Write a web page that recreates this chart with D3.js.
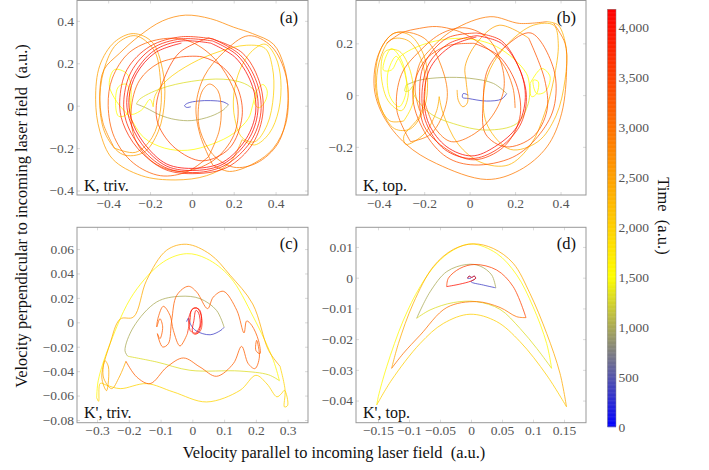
<!DOCTYPE html>
<html>
<head>
<meta charset="utf-8">
<script src="https://cdn.jsdelivr.net/npm/d3@7"></script>
<style>
  html, body { margin: 0; padding: 0; background: #fff; }
  svg { display: block; }
  text { font-family: "Liberation Serif", serif; }
</style>
</head>
<body>
<svg id="chart" width="709" height="470"></svg>
<script>
// colorbar
const timeTicks = [0, 500, 1000, 1500, 2000, 2500, 3000, 3500, 4000];
const timeStops = [0, 1500, 4172];
const timeColors = ['#0000ff', '#ffff00', '#ff0000'];

// tick values
const ticksA = [-0.4, -0.2, 0, 0.2, 0.4];
const ticksBx = [-0.4, -0.2, 0, 0.2, 0.4];
const ticksBy = [-0.2, 0, 0.2];
const ticksCx = [-0.3, -0.2, -0.1, 0, 0.1, 0.2, 0.3];
const ticksCy = [-0.08, -0.06, -0.04, -0.02, 0, 0.02, 0.04, 0.06];
const ticksDx = [-0.15, -0.1, -0.05, 0, 0.05, 0.1, 0.15];
const ticksDy = [-0.04, -0.03, -0.02, -0.01, 0, 0.01];

// trajectories: [time, [[vx, vy], ...]]
const trajA = [
  [350, [[-0.005,-0.005],[-0.025,-0.008],[-0.035,0],[-0.02,0.012],[0.03,0.022],[0.09,0.024],[0.15,0.018],[0.175,0.005]]],
  [1000, [[0.175,0.005],[0.15,-0.02],[0.09,-0.05],[0,-0.07],[-0.08,-0.065],[-0.15,-0.045],[-0.22,-0.01],[-0.265,0.008]]],
  [1300, [[-0.265,0.008],[-0.25,0.03],[-0.15,0.08],[0,0.115],[0.15,0.125],[0.25,0.105],[0.3,0.07],[0.31,0.04]]],
  [1500, [[0.31,0.04],[0.3,0.01],[0.32,-0.01],[0.35,0.02],[0.36,0.07],[0.34,0.1],[0.31,0.07],[0.29,0],[0.27,-0.06],[0.2,-0.13],[0.1,-0.18],[-0.02,-0.21],[-0.13,-0.2],[-0.23,-0.15],[-0.3,-0.05],[-0.36,0.02],[-0.395,0.1],[-0.37,0.17],[-0.31,0.15],[-0.29,0.05],[-0.31,-0.04],[-0.35,-0.05],[-0.365,0.02],[-0.35,0.09],[-0.31,0.1],[-0.295,0],[-0.29,-0.04],[-0.24,-0.02],[-0.2,0.03],[-0.185,-0.005]]],
  [2000, [[-0.185,-0.005],[-0.175,0.05],[-0.12,0.12],[0,0.2],[0.13,0.255],[0.26,0.285],[0.35,0.27],[0.385,0.18],[0.39,0.05],[0.36,-0.09],[0.3,-0.17],[0.24,-0.15],[0.205,-0.06],[0.2,0.05],[0.23,0.17],[0.29,0.26],[0.35,0.29],[0.4,0.23],[0.425,0.12],[0.415,-0.02],[0.37,-0.13],[0.3,-0.185],[0.24,-0.16]]],
  [2500, [[0.24,-0.16],[0.18,-0.27],[0.07,-0.33],[-0.08,-0.35],[-0.24,-0.33],[-0.38,-0.25],[-0.44,-0.12],[-0.46,0.03],[-0.44,0.19],[-0.37,0.3],[-0.28,0.34],[-0.19,0.3],[-0.14,0.17],[-0.13,0.03],[-0.16,-0.12],[-0.23,-0.22],[-0.33,-0.23],[-0.41,-0.14],[-0.44,0],[-0.42,0.17],[-0.36,0.29],[-0.27,0.33],[-0.18,0.26],[-0.15,0.12],[-0.15,-0.02],[-0.19,-0.15],[-0.27,-0.22],[-0.37,-0.2]]],
  [2750, [[-0.37,-0.2],[-0.425,-0.08],[-0.44,0.06],[-0.42,0.17],[-0.347,0.246],[-0.25,0.33],[-0.14,0.4],[-0.03,0.427],[0.09,0.41],[0.2,0.37],[0.29,0.34],[0.39,0.29],[0.44,0.19],[0.46,0.06],[0.45,-0.08],[0.39,-0.2],[0.3,-0.27],[0.18,-0.31],[0.1,-0.28]]],
  [2950, [[0.1,-0.28],[0.04,-0.14],[0.02,0],[0.06,0.14],[0.15,0.25],[0.27,0.33],[0.38,0.28],[0.45,0.14],[0.455,-0.03],[0.41,-0.18],[0.31,-0.27],[0.2,-0.29],[0.1,-0.23],[0.04,-0.12],[0.03,-0.03],[0.05,0.07],[0.085,0.102],[0.125,0.07],[0.14,-0.02],[0.13,-0.12],[0.08,-0.24]]],
  [3200, [[0.08,-0.24],[-0.02,-0.31],[-0.15,-0.33],[-0.28,-0.27],[-0.37,-0.15],[-0.4,0],[-0.38,0.13],[-0.3,0.25],[-0.17,0.31],[-0.03,0.31],[0.09,0.24],[0.18,0.12],[0.22,0],[0.2,-0.14],[0.1,-0.26],[-0.05,-0.31],[-0.18,-0.27],[-0.27,-0.16],[-0.29,-0.02],[-0.25,0.12],[-0.16,0.2],[-0.05,0.23]]],
  [3450, [[-0.05,0.23],[0.05,0.23],[0.15,0.18],[0.22,0.08],[0.24,-0.05],[0.18,-0.2],[0.05,-0.26],[-0.08,-0.2],[-0.16,-0.09],[-0.17,0],[-0.14,0.11],[-0.06,0.25],[0.08,0.32]]],
  [3700, [[0.08,0.32],[0.24,0.25],[0.32,0.12],[0.34,-0.03],[0.29,-0.18],[0.17,-0.29],[0.02,-0.32],[-0.13,-0.3],[-0.26,-0.2],[-0.33,-0.08],[-0.345,0.02],[-0.31,0.17],[-0.2,0.28],[-0.05,0.325],[0.1,0.315]]],
  [3850, [[0.1,0.315],[0.23,0.24],[0.31,0.11],[0.33,-0.03],[0.28,-0.17],[0.16,-0.28],[0.02,-0.315],[-0.13,-0.29],[-0.25,-0.19],[-0.315,-0.07],[-0.325,0.03],[-0.29,0.16],[-0.19,0.27],[-0.05,0.315],[0.1,0.305]]],
  [4000, [[0.1,0.305],[0.22,0.235],[0.3,0.1],[0.315,-0.03],[0.27,-0.16],[0.15,-0.275],[0.02,-0.305],[-0.12,-0.285],[-0.24,-0.18],[-0.3,-0.06],[-0.31,0.04],[-0.275,0.15],[-0.18,0.26],[-0.05,0.305],[0.09,0.295]]],
  [4100, [[0.09,0.295],[0.21,0.225],[0.29,0.09],[0.305,-0.03],[0.26,-0.155],[0.15,-0.265],[0.02,-0.295],[-0.12,-0.275],[-0.23,-0.175],[-0.29,-0.06],[-0.3,0.04],[-0.265,0.15],[-0.175,0.25],[-0.05,0.295]]]
];

const trajB = [
  [350, [[-0.006,0],[-0.028,0.006],[-0.031,-0.009],[-0.006,-0.013],[0.075,-0.023],[0.141,-0.015],[0.163,0.006]]],
  [1000, [[0.163,0.006],[0.105,0.045],[0,0.065],[-0.116,0.068],[-0.22,0.058],[-0.279,0.039]]],
  [1300, [[-0.279,0.039],[-0.285,0.015],[-0.265,0.018],[-0.25,0.035],[-0.25,0.01],[-0.175,-0.07],[-0.072,-0.11],[0.075,-0.135],[0.207,-0.11],[0.258,-0.032],[0.266,0.045]]],
  [1500, [[0.266,0.045],[0.317,0.103],[0.354,0.071],[0.332,0.013],[0.295,0.006],[0.28,0.058],[0.302,0.052],[0.295,0.006],[0.273,-0.006],[0.25,0.084],[0.119,0.187],[-0.028,0.219],[-0.189,0.2],[-0.307,0.148],[-0.344,0.097],[-0.38,0.097],[-0.345,0.18],[-0.3,0.135],[-0.278,0.02],[-0.31,-0.045],[-0.35,-0.007],[-0.36,0.085],[-0.323,0.15],[-0.29,0.1]]],
  [1800, [[-0.29,0.1],[-0.27,0],[-0.3,-0.06],[-0.36,-0.02],[-0.39,0.1],[-0.37,0.17],[-0.31,0.17],[-0.26,0.09],[-0.25,-0.03],[-0.29,-0.1]]],
  [2400, [[-0.29,-0.1],[-0.35,-0.1],[-0.4,-0.03],[-0.415,0.07],[-0.39,0.18],[-0.33,0.24],[-0.26,0.23],[-0.2,0.15],[-0.185,0.05],[-0.2,-0.05],[-0.26,-0.13],[-0.33,-0.13],[-0.39,-0.05],[-0.41,0.05],[-0.39,0.15],[-0.345,0.215],[-0.27,0.21],[-0.21,0.13],[-0.195,0.02],[-0.22,-0.08],[-0.29,-0.16],[-0.28,-0.19],[-0.2,-0.15],[-0.145,-0.06],[-0.134,-0.006]]],
  [2300, [[-0.134,-0.006],[-0.117,-0.07],[-0.05,-0.19],[0.05,-0.26],[0.17,-0.27],[0.27,-0.19],[0.33,-0.07],[0.37,0.06],[0.39,0.2],[0.37,0.27],[0.28,0.27],[0.17,0.2],[0.09,0.1],[0.06,-0.01],[0.08,-0.12],[0.18,-0.21],[0.3,-0.18],[0.38,-0.08],[0.42,0.06],[0.425,0.18],[0.39,0.27],[0.34,0.284]]],
  [2900, [[0.34,0.284],[0.22,0.277],[0.09,0.303],[-0.072,0.252],[-0.18,0.17],[-0.22,0.122],[-0.24,0.02],[-0.22,-0.06]]],
  [3050, [[-0.366,0.2],[-0.3,0.24],[-0.22,0.258],[-0.145,0.265],[-0.06,0.25],[0,0.226],[0.134,0.135],[0.19,0.03],[0.2,-0.05]]],
  [2900, [[0.37,0.277],[0.42,0.2],[0.427,0.11],[0.405,-0.07],[0.34,-0.2],[0.22,-0.29],[0.075,-0.326],[-0.145,-0.265],[-0.28,-0.19],[-0.38,-0.08],[-0.42,0.03],[-0.4,0.16],[-0.33,0.24],[-0.2,0.22],[-0.12,0.1],[-0.1,-0.02],[-0.17,-0.15],[-0.26,-0.18]]],
  [3100, [[-0.26,-0.18],[-0.32,-0.06],[-0.3,0.08],[-0.22,0.17],[-0.12,0.24],[-0.02,0.26],[0.08,0.22],[0.14,0.12],[0.15,0.02],[0.1,-0.08],[0.02,-0.15],[-0.08,-0.18],[-0.15,-0.13],[-0.2,-0.02]]],
  [2500, [[-0.055,0.02],[-0.05,-0.02],[-0.03,-0.045],[-0.01,-0.03],[-0.015,0.05],[-0.02,0.11],[0.03,0.2],[0.13,0.27],[0.26,0.22]]],
  [3300, [[0.26,0.22],[0.33,0.06],[0.34,-0.06],[0.28,-0.16],[0.16,-0.2],[0.07,-0.15],[0.06,-0.02],[0.08,0.1],[0.16,0.19],[0.27,0.24],[0.37,0.1],[0.37,-0.05],[0.3,-0.16],[0.19,-0.24],[0.02,-0.27],[-0.1,-0.24],[-0.2,-0.14],[-0.25,0],[-0.2,0.13],[-0.1,0.19],[0.02,0.2]]],
  [3550, [[0.02,0.2],[0.13,0.15],[0.21,0.03],[0.22,-0.09],[0.15,-0.2],[0.02,-0.25],[-0.1,-0.21],[-0.2,-0.12],[-0.22,0],[-0.2,0.12],[-0.1,0.22],[0.03,0.24]]],
  [3800, [[0.03,0.24],[0.14,0.21],[0.22,0.1],[0.25,-0.01],[0.22,-0.12],[0.12,-0.21],[0.01,-0.245],[-0.11,-0.21],[-0.19,-0.11],[-0.21,0],[-0.18,0.12],[-0.09,0.2],[0.03,0.23]]],
  [4050, [[0.03,0.23],[0.14,0.2],[0.22,0.1],[0.245,-0.01],[0.21,-0.12],[0.11,-0.2],[0.01,-0.235],[-0.1,-0.2],[-0.18,-0.11],[-0.2,0],[-0.17,0.11],[-0.08,0.19],[0.03,0.225]]]
];

const trajC = [
  [350, [[-0.018,0.0005],[-0.012,0.0035],[-0.005,-0.002],[0.012,-0.007],[0.056,-0.0102],[0.09,-0.0065],[0.1,-0.004]]],
  [1000, [[0.1,-0.004],[0.076,0.0098],[0.024,0.0194],[-0.039,0.0213],[-0.112,0.0167],[-0.185,-0.0038],[-0.212,-0.0232],[-0.203,-0.0278]]],
  [1300, [[-0.203,-0.0278],[-0.112,-0.0325],[-0.007,-0.0393],[0.15,-0.0399],[0.24,-0.043],[0.274,-0.0478]]],
  [1550, [[0.274,-0.0478],[0.255,-0.0311],[0.192,0.0044],[0.119,0.037],[0.045,0.0521],[-0.018,0.0562],[-0.091,0.0495],[-0.185,0.0235],[-0.259,-0.0175],[-0.296,-0.0475],[-0.301,-0.0617]]],
  [1950, [[-0.301,-0.0617],[-0.295,-0.0647],[-0.29,-0.05],[-0.27,-0.0515],[-0.227,-0.0543],[-0.144,-0.0502],[-0.06,-0.057],[0.045,-0.0652],[0.15,-0.0557],[0.2,-0.0434],[0.235,-0.0505],[0.266,-0.061],[0.28,-0.0585],[0.29,-0.0557],[0.3,-0.068],[0.29,-0.0693],[0.292,-0.0557],[0.276,-0.036]]],
  [2400, [[0.276,-0.036],[0.24,-0.023],[0.19,0.015],[0.119,0.0385],[0.056,0.0557],[-0.018,0.0639],[-0.081,0.059],[-0.144,0.0344],[-0.185,0.0044],[-0.227,0.0027],[-0.259,-0.0175],[-0.285,-0.0448],[-0.27,-0.056],[-0.264,-0.0366],[-0.275,-0.0314],[-0.28,-0.0448],[-0.254,-0.0543],[-0.23,-0.0448],[-0.209,-0.0319]]],
  [3200, [[-0.209,-0.0319],[-0.175,-0.0448],[-0.133,-0.0502],[-0.08,-0.0366],[-0.028,-0.0292],[0.024,-0.0366],[0.076,-0.0442],[0.129,-0.0338],[0.155,-0.0197],[0.176,-0.0339],[0.197,-0.0379],[0.211,-0.0284],[0.2025,-0.0147],[0.2,-0.023],[0.213,-0.0257],[0.208,-0.0147],[0.187,-0.0025],[0.171,0.0011],[0.1626,-0.0087],[0.14,0.0098],[0.0976,0.0254],[0.066,0.0207],[0.048,0.0112],[0.0136,0.0248],[-0.0126,0.0295],[-0.049,0.0221],[-0.065,0.0016],[-0.0756,-0.0175],[-0.0934,-0.0202],[-0.11,-0.0093],[-0.102,-0.0134],[-0.0934,-0.0038],[-0.102,0.003],[-0.112,-0.0038],[-0.107,0.0044],[-0.0913,0.0131],[-0.0703,0.0057],[-0.0598,-0.0066],[-0.0388,-0.0194],[-0.0157,-0.0093]]],
  [3700, [[-0.0157,-0.0093],[-0.0073,0.0016],[-0.002,0.0104],[0.0136,0.012],[0.029,0.0044],[0.0262,-0.0066],[0.0084,-0.0098],[-0.0073,-0.0066]]],
  [4100, [[-0.0073,-0.0066],[-0.0115,0.003],[0.003,0.0112],[0.022,0.0104],[0.0283,0.0003],[0.0157,-0.0087],[0.001,-0.0079],[0.005,0.0016],[0.0115,0.0098],[0.02,0.0075],[0.024,-0.003],[0.012,-0.0085]]]
];

const trajD = [
  [350, [[0,-0.0002],[-0.0054,-0.0002],[-0.0032,0.0005],[0.001,0.0001],[0.0054,0.0005],[0.0075,-0.0002],[0,-0.0013],[0.02,-0.0024],[0.04,-0.0033]]],
  [1000, [[0.04,-0.0033],[0.0333,0.0009],[0.0145,0.0038],[-0.007,0.0043],[-0.039,0.002],[-0.066,-0.0046],[-0.0876,-0.0132]]],
  [1300, [[-0.0876,-0.0132],[-0.066,-0.0105],[-0.0285,-0.0081],[0.009,-0.0078],[0.0468,-0.0103],[0.079,-0.0165],[0.106,-0.023],[0.13,-0.0295]]],
  [1550, [[0.13,-0.0295],[0.122,-0.0214],[0.1,-0.0094],[0.0737,0.0009],[0.0414,0.0079],[0.001,0.011],[-0.0285,0.009],[-0.055,0.0047],[-0.082,-0.0029],[-0.109,-0.0138],[-0.136,-0.029],[-0.1495,-0.0387],[-0.152,-0.0414]]],
  [2000, [[-0.152,-0.0414],[-0.128,-0.0333],[-0.082,-0.0214],[-0.0446,-0.0149],[-0.0016,-0.0119],[0.0414,-0.0143],[0.079,-0.0208],[0.122,-0.0317],[0.154,-0.042]]],
  [2400, [[0.154,-0.042],[0.1435,-0.0311],[0.122,-0.0181],[0.095,-0.0051],[0.068,0.0047],[0.036,0.0095],[0.0038,0.011],[-0.0285,0.0092],[-0.0608,0.0036],[-0.093,-0.0083],[-0.117,-0.0214],[-0.128,-0.0295]]],
  [3000, [[-0.128,-0.0295],[-0.109,-0.0246],[-0.082,-0.0187],[-0.039,-0.0097],[0.009,-0.0078],[0.0468,-0.0097],[0.0737,-0.0127],[0.0887,-0.013]]],
  [3500, [[0.0887,-0.013],[0.068,-0.0029],[0.0414,0.0025],[0.0065,0.0043],[-0.018,0.003],[-0.0366,-0.0002],[-0.0392,-0.0029]]],
  [4000, [[-0.0392,-0.0029],[-0.018,-0.0021],[0,-0.0011],[0.0075,-0.0002],[0.0054,0.0005],[0.001,0.0001],[-0.0032,0.0005],[-0.0054,-0.0002]]]
];

const svg = d3.select('#chart');

const timeColor = d3.scaleLinear().domain(timeStops).range(timeColors).interpolate(d3.interpolateRgb);
const line = d3.line().curve(d3.curveCatmullRom.alpha(0.5));
const fmt = d => d === 0 ? '0' : String(d).replace('-', '\u2212');

const drawPanel = function(o) {
  const x = d3.scaleLinear().domain(o.xDom).range([o.left, o.right]);
  const y = d3.scaleLinear().domain(o.yDom).range([o.bottom, o.top]);
  const g = svg.append('g');

  // frame ticks on all four sides
  const sides = [
    [d3.axisBottom(x).tickValues(o.xTicks).tickFormat(fmt), 0, o.bottom],
    [d3.axisTop(x).tickValues(o.xTicks).tickFormat(''), 0, o.top],
    [d3.axisLeft(y).tickValues(o.yTicks).tickFormat(fmt), o.left, 0],
    [d3.axisRight(y).tickValues(o.yTicks).tickFormat(''), o.right, 0]
  ];
  sides.forEach(s => {
    const a = g.append('g').attr('transform', `translate(${s[1]},${s[2]})`)
      .call(s[0].tickSizeInner(-3).tickSizeOuter(0).tickPadding(3));
    a.select('.domain').remove();
    a.selectAll('line').attr('stroke', '#ccc').attr('stroke-width', 0.7);
    a.selectAll('text').attr('font-size', 13.5).attr('fill', '#555').style('font-family', '"Liberation Serif", serif');
  });

  o.traj.forEach(p => {
    g.append('path')
      .attr('d', line(p[1].map(d => [x(d[0]), y(d[1])])))
      .attr('fill', 'none')
      .attr('stroke', timeColor(p[0]))
      .attr('stroke-width', 0.9)
      .attr('stroke-opacity', 0.85);
  });

  g.append('rect')
    .attr('x', o.left).attr('y', o.top)
    .attr('width', o.right - o.left).attr('height', o.bottom - o.top)
    .attr('fill', 'none').attr('stroke', '#999').attr('stroke-width', 1);

  g.append('text').text(o.tag)
    .attr('x', o.right - 10).attr('y', o.top + 22)
    .attr('text-anchor', 'end').attr('font-size', 16.5).attr('fill', '#111');
  g.append('text').text(o.name)
    .attr('x', o.left + 7).attr('y', o.bottom - 4.5)
    .attr('font-size', 16).attr('fill', '#111');
};

drawPanel({ left: 77, right: 308, top: 0.5, bottom: 195, xDom: [-0.549, 0.555], yDom: [-0.421, 0.496],
  xTicks: ticksA, yTicks: ticksA, traj: trajA, tag: '(a)', name: 'K, triv.' });
drawPanel({ left: 356, right: 586, top: 0.5, bottom: 195, xDom: [-0.5, 0.512], yDom: [-0.386, 0.3656],
  xTicks: ticksBx, yTicks: ticksBy, traj: trajB, tag: '(b)', name: 'K, top.' });
drawPanel({ left: 77, right: 308, top: 227.3, bottom: 422.7, xDom: [-0.363, 0.364], yDom: [-0.0822, 0.0778],
  xTicks: ticksCx, yTicks: ticksCy, traj: trajC, tag: '(c)', name: "K', triv." });
drawPanel({ left: 356, right: 586, top: 227.3, bottom: 422.7, xDom: [-0.1855, 0.1855], yDom: [-0.0472, 0.0164],
  xTicks: ticksDx, yTicks: ticksDy, traj: trajD, tag: '(d)', name: "K', top." });

// colorbar
const barY = d3.scaleLinear().domain([0, 4172]).range([426.7, 9.5]);
const barSteps = d3.range(0, 4172, 8);
svg.append('g').selectAll('rect').data(barSteps).join('rect')
  .attr('x', 607.5).attr('width', 8.5)
  .attr('y', d => barY(d + 8)).attr('height', d => barY(d) - barY(d + 8) + 0.5)
  .attr('fill', d => timeColor(d));
svg.append('rect').attr('x', 607.5).attr('y', 9.5).attr('width', 8.5).attr('height', 417.2)
  .attr('fill', 'none').attr('stroke', '#888').attr('stroke-width', 0.5);
const barAxis = svg.append('g').attr('transform', 'translate(616,0)')
  .call(d3.axisRight(barY).tickValues(timeTicks).tickFormat(d3.format(',')).tickSizeInner(0).tickSizeOuter(0).tickPadding(2.5));
barAxis.select('.domain').remove();
barAxis.selectAll('text').attr('font-size', 13.5).attr('fill', '#555').style('font-family', '"Liberation Serif", serif');

// axis titles
svg.append('text').text('Velocity parallel to incoming laser field\u00a0\u00a0(a.u.)')
  .attr('x', 334).attr('y', 458).attr('text-anchor', 'middle').attr('font-size', 16.4).attr('fill', '#111');
svg.append('text').text('Velocity perpendicular to incoming laser field\u00a0\u00a0(a.u.)')
  .attr('transform', 'translate(27,216) rotate(-90)').attr('text-anchor', 'middle').attr('font-size', 16.4).attr('fill', '#111');
svg.append('text').text('Time\u00a0\u00a0(a.u.)')
  .attr('transform', 'translate(658,216) rotate(90)').attr('text-anchor', 'middle').attr('font-size', 16.5).attr('fill', '#111');
</script>
</body>
</html>
